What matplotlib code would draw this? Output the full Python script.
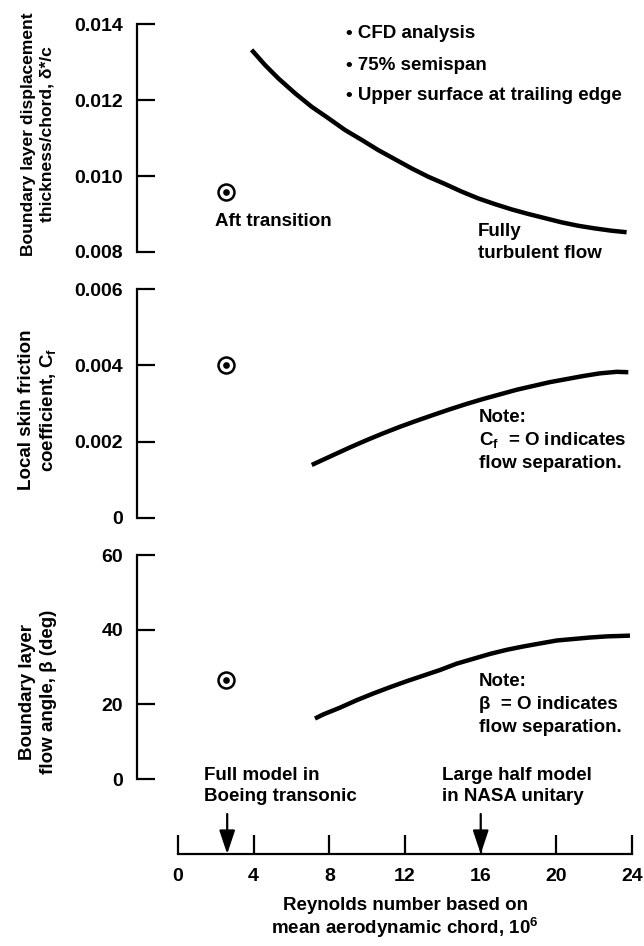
import matplotlib
matplotlib.use("Agg")
import matplotlib.pyplot as plt

plt.rcParams["font.family"] = ["Liberation Sans", "DejaVu Sans"]
plt.rcParams["font.weight"] = "bold"
plt.rcParams["mathtext.fontset"] = "custom"
plt.rcParams["mathtext.rm"] = "Liberation Sans:bold"
plt.rcParams["mathtext.it"] = "Liberation Sans:bold"
plt.rcParams["mathtext.bf"] = "Liberation Sans:bold"

# CFD curves, Reynolds number in millions
re_disp = [3.89, 4.60, 5.30, 6.18, 7.07, 7.95, 8.83, 9.71, 10.59, 11.47, 12.35,
           13.23, 14.11, 14.99, 15.87, 16.75, 17.64, 18.52, 19.40, 20.28, 21.16,
           22.04, 22.92, 23.71]
disp = [0.01332, 0.01292, 0.01257, 0.01218, 0.01182, 0.01152, 0.01121, 0.01095,
        0.01068, 0.01044, 0.01020, 0.00998, 0.00979, 0.00959, 0.00941, 0.00926,
        0.00912, 0.00900, 0.00889, 0.00878, 0.00869, 0.00862, 0.00856, 0.00852]

re_cf = [7.07, 8.21, 9.09, 9.97, 10.85, 11.73, 12.62, 13.49, 14.38, 15.26, 16.14,
         17.02, 17.90, 18.78, 19.66, 20.54, 21.42, 22.30, 23.19, 23.80]
cf = [0.00139, 0.00165, 0.00185, 0.00204, 0.00222, 0.00239, 0.00255, 0.00270,
      0.00285, 0.00299, 0.00312, 0.00324, 0.00336, 0.00346, 0.00356, 0.00364,
      0.00372, 0.00379, 0.00383, 0.00382]

re_beta = [7.24, 7.68, 8.56, 9.44, 10.32, 11.21, 12.09, 12.97, 13.85, 14.73, 15.61,
           16.49, 17.37, 18.25, 19.13, 20.02, 20.90, 21.78, 22.66, 23.89]
beta = [16.2, 17.3, 19.1, 21.1, 22.9, 24.6, 26.2, 27.7, 29.2, 30.9, 32.2,
        33.5, 34.6, 35.5, 36.3, 37.1, 37.5, 37.9, 38.2, 38.4]

# aft-transition point (full model, Boeing transonic tunnel)
re_aft = 2.55
disp_aft = 0.00958
cf_aft = 0.0040
beta_aft = 26.4

# test facility Reynolds numbers
re_boeing = 2.6
re_nasa = 16.0

x_ticks = [0, 4, 8, 12, 16, 20, 24]
disp_ticks = [0.008, 0.010, 0.012, 0.014]
cf_ticks = [0, 0.002, 0.004, 0.006]
beta_ticks = [0, 20, 40, 60]

W, H = 644, 946
XLIM = (-2.167, 24.63)
FS = 13.5      # annotation text
TFS = 14       # tick labels
LW = 1.6


def frac(px_top, px_bot):
    """figure-fraction bottom/height from pixel rows (top-origin)"""
    return 1 - px_bot / H, (px_bot - px_top) / H


def ftext(px, py, s, **kw):
    kw.setdefault("fontsize", FS)
    kw.setdefault("va", "center")
    return fig.text(px / W, 1 - py / H, s, **kw)


def panel(px_top, px_bot, ylim, ticks, fmt):
    b, h = frac(px_top, px_bot)
    ax = fig.add_axes([137 / W, b, 1 - 137 / W, h])
    ax.set_xlim(*XLIM)
    ax.set_ylim(*ylim)
    for s in ("top", "right", "bottom"):
        ax.spines[s].set_visible(False)
    ax.spines["left"].set_linewidth(LW)
    ax.spines["left"].set_bounds(*ylim)
    ax.set_xticks([])
    ax.set_yticks(ticks)
    ax.set_yticklabels([fmt(t) for t in ticks])
    ax.tick_params(axis="y", direction="in", length=13, width=LW,
                   pad=10, labelsize=TFS)
    ax.patch.set_alpha(0)
    return ax


def aft_marker(ax, x, y):
    ax.plot(x, y, "o", ms=11.5, mfc="white", mec="black", mew=1.8, clip_on=False)
    ax.plot(x, y, "o", ms=3.8, color="black", clip_on=False)


fig = plt.figure(figsize=(W / 100, H / 100), dpi=100)

# ---- displacement thickness ----
ax1 = panel(24, 252, (0.008, 0.014), disp_ticks, lambda t: f"{t:.3f}")
ax1.plot(re_disp, disp, color="black", lw=3.2, solid_capstyle="butt")
aft_marker(ax1, re_aft, disp_aft)
ftext(215, 221, "Aft transition")
ftext(478, 231, "Fully")
ftext(478, 254, "turbulent flow")
for s, py in [("• CFD analysis", 33), ("• 75% semispan", 65),
              ("• Upper surface at trailing edge", 96)]:
    ftext(346, py, s)

# ---- skin friction ----
ax2 = panel(289, 518, (0, 0.006), cf_ticks,
            lambda t: "0" if t == 0 else f"{t:.3f}")
ax2.plot(re_cf, cf, color="black", lw=3.2, solid_capstyle="butt")
aft_marker(ax2, re_aft, cf_aft)
ftext(479, 417, "Note:")
ftext(479, 440, "$\\mathregular{C_f}$  = O indicates")
ftext(479, 463, "flow separation.")

# ---- flow angle ----
ax3 = panel(555, 779, (0, 60), beta_ticks, lambda t: f"{t:d}")
ax3.plot(re_beta, beta, color="black", lw=3.2, solid_capstyle="butt")
aft_marker(ax3, re_aft, beta_aft)
ftext(479, 681, "Note:")
ftext(479, 704, "β  = O indicates")
ftext(479, 727, "flow separation.")

# ---- shared Reynolds number axis ----
b, h = frac(740, 854)
axx = fig.add_axes([137 / W, b, 1 - 137 / W, h])
axx.set_xlim(*XLIM)
axx.set_ylim(0, 114)
for s in ("top", "right", "left"):
    axx.spines[s].set_visible(False)
axx.spines["bottom"].set_linewidth(LW)
axx.spines["bottom"].set_bounds(0, 24)
axx.set_yticks([])
axx.set_xticks(x_ticks)
axx.set_xticklabels([str(t) for t in x_ticks])
axx.tick_params(axis="x", direction="in", length=13.5, width=LW,
                pad=10, labelsize=TFS)
axx.patch.set_alpha(0)

arrow = dict(arrowstyle="-|>,head_length=0.9,head_width=0.3", color="black",
             lw=1.6, mutation_scale=16, shrinkA=0, shrinkB=0)
for xr in (re_boeing, re_nasa):
    axx.annotate("", xy=(xr, 0), xytext=(xr, 40), arrowprops=arrow)
ftext(204, 775, "Full model in")
ftext(204, 796, "Boeing transonic")
ftext(442, 775, "Large half model")
ftext(442, 796, "in NASA unitary")

ftext(405, 905, "Reynolds number based on", ha="center")
ftext(405, 928, "mean aerodynamic chord, $\\mathregular{10^6}$", ha="center")

# ---- y-axis titles ----
ylabels = [
    ("Boundary layer displacement\nthickness/chord, δ*/c", 134, 12.6),
    ("Local skin friction\ncoefficient, $\\mathregular{C_f}$", 410, FS),
    ("Boundary layer\nflow angle, β (deg)", 692, FS),
]
for txt, py, fs in ylabels:
    ftext(38, py, txt, rotation=90, ha="center", linespacing=1.25, fontsize=fs)

fig.savefig("out.png", dpi=100)
